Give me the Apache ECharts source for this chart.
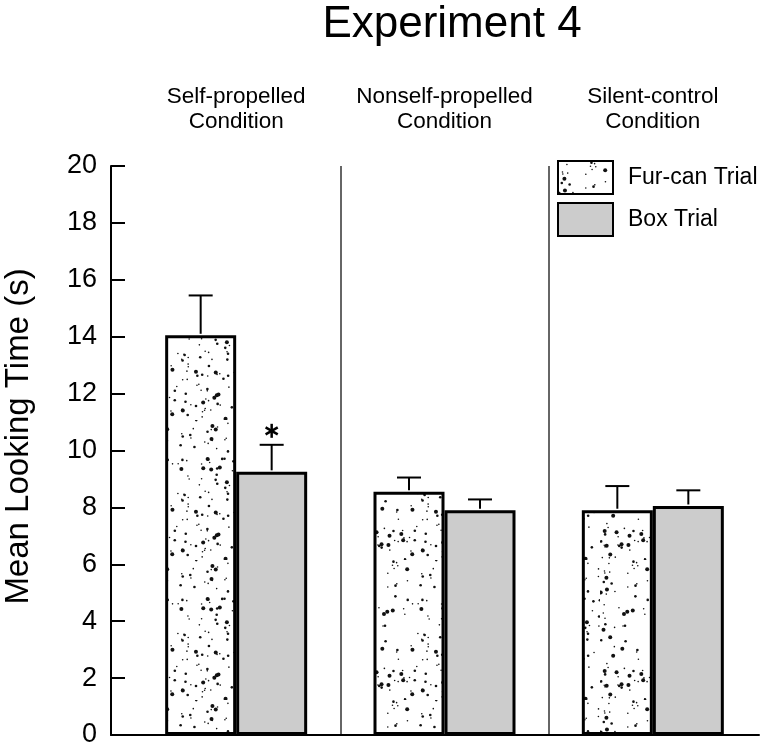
<!DOCTYPE html>
<html>
<head>
<meta charset="utf-8">
<script src="https://cdn.jsdelivr.net/npm/echarts@6/dist/echarts.min.js"></script>
<style>
  html, body { margin: 0; padding: 0; background: #fff; }
  #chart { width: 770px; height: 751px; }
</style>
</head>
<body>
<div id="chart"></div>
<script>
const conditions = ["Self-propelled\nCondition", "Nonself-propelled\nCondition", "Silent-control\nCondition"];
const furMeans = [14.05, 8.55, 7.9];
const furUpper = [15.45, 9.05, 8.75];
const boxMeans = [9.25, 7.9, 8.05];
const boxUpper = [10.2, 8.28, 8.6];
const boxSig = ["*", "", ""];
const yTicks = [0, 20, 2];

const FONT = "Liberation Sans, Arial, Helvetica, sans-serif";
const BAR_W = 71;

// speckled fill for the fur-can bars (texture only, fixed seed)
function speckle() {
  const c = document.createElement("canvas");
  c.width = 120;
  c.height = 140;
  const ctx = c.getContext("2d");
  ctx.fillStyle = "#fff";
  ctx.fillRect(0, 0, c.width, c.height);
  ctx.fillStyle = "#111";
  let s = 98765;
  const rnd = () => {
    s = (s * 1103515245 + 12345) % 2147483648;
    return s / 2147483648;
  };
  for (let i = 0; i < 200; i++) {
    const x = rnd() * c.width, y = rnd() * c.height;
    const k = rnd();
    const r = k < 0.45 ? 0.8 : k < 0.8 ? 1.3 : 2.0;
    ctx.beginPath();
    ctx.arc(x, y, r, 0, Math.PI * 2);
    ctx.fill();
  }
  return c;
}

const errData = [];
conditions.forEach((_, i) => {
  errData.push([i, furMeans[i], furUpper[i], 0, ""]);
  errData.push([i, boxMeans[i], boxUpper[i], 1, boxSig[i]]);
});

const chart = echarts.init(document.getElementById("chart"));

chart.setOption({
  animation: false,
  backgroundColor: "#fff",
  textStyle: { fontFamily: FONT, color: "#000" },
  title: {
    text: "Experiment 4",
    left: 452,
    top: 3,
    padding: 0,
    textAlign: "center",
    textStyle: { fontFamily: FONT, fontSize: 44, fontWeight: "normal", color: "#000" }
  },
  legend: {
    data: ["Fur-can Trial", "Box Trial"],
    orient: "vertical",
    left: 557,
    top: 160,
    padding: 0,
    itemWidth: 55,
    itemHeight: 33,
    itemGap: 7,
    icon: "rect",
    itemStyle: { borderColor: "#000", borderWidth: 2 },
    textStyle: { fontFamily: FONT, fontSize: 23, color: "#000", padding: [0, 0, 0, 10] }
  },
  grid: [
    { left: 111, right: 11, top: 166, bottom: 16, outerBoundsMode: "none" },
    { left: 132, right: 13, top: 166, bottom: 16, outerBoundsMode: "none" }
  ],
  xAxis: [
    {
      type: "value", gridIndex: 0, min: 0, max: 1,
      axisLine: { show: true, lineStyle: { color: "#000", width: 2 } },
      axisTick: { show: false }, axisLabel: { show: false }, splitLine: { show: false }
    },
    {
      type: "category", gridIndex: 1, position: "top",
      data: conditions,
      axisLine: { show: false }, axisTick: { show: false },
      axisLabel: { interval: 0, fontFamily: FONT, fontSize: 22.5, lineHeight: 25, color: "#000", margin: 32 },
      splitLine: {
        show: true, interval: 0, showMinLine: false, showMaxLine: false,
        lineStyle: { color: "#333", width: 1.5 }
      }
    }
  ],
  yAxis: [
    {
      type: "value", gridIndex: 0, min: yTicks[0], max: yTicks[1], interval: yTicks[2],
      name: "Mean Looking Time (s)",
      nameLocation: "middle",
      nameGap: 76,
      nameTextStyle: { fontFamily: FONT, fontSize: 33, color: "#000", padding: [0, 0, 0, 28] },
      axisLine: { show: true, lineStyle: { color: "#000", width: 2 } },
      axisTick: { show: true, inside: true, length: 14, lineStyle: { color: "#000", width: 2 } },
      axisLabel: { fontFamily: FONT, fontSize: 27, color: "#000", margin: 14 },
      splitLine: { show: false }
    },
    { type: "value", gridIndex: 1, min: yTicks[0], max: yTicks[1], show: false }
  ],
  series: [
    {
      name: "Fur-can Trial", type: "bar", xAxisIndex: 1, yAxisIndex: 1,
      data: furMeans, barWidth: BAR_W, barGap: "0%",
      itemStyle: { color: { image: speckle(), repeat: "repeat" }, borderColor: "#000", borderWidth: 3 }
    },
    {
      name: "Box Trial", type: "bar", xAxisIndex: 1, yAxisIndex: 1,
      data: boxMeans, barWidth: BAR_W, barGap: "0%",
      itemStyle: { color: "#cccccc", borderColor: "#000", borderWidth: 3 }
    },
    {
      type: "custom", xAxisIndex: 1, yAxisIndex: 1, z: 5,
      data: errData,
      renderItem: function (params, api) {
        const top = api.coord([api.value(0), api.value(1)]);
        const up = api.coord([api.value(0), api.value(2)]);
        const x = top[0] + (api.value(3) === 0 ? -BAR_W / 2 : BAR_W / 2);
        const st = { stroke: "#000", lineWidth: 2 };
        const kids = [
          { type: "line", shape: { x1: x, y1: top[1] - 1.5, x2: x, y2: up[1] }, style: st },
          { type: "line", shape: { x1: x - 12, y1: up[1], x2: x + 12, y2: up[1] }, style: st }
        ];
        if (errData[params.dataIndex][4] === "*") {
          const cy = up[1] - 14, r = 7;
          [90, 30, 150].forEach(function (a) {
            const dx = Math.cos(a * Math.PI / 180) * r, dy = Math.sin(a * Math.PI / 180) * r;
            kids.push({ type: "line", shape: { x1: x - dx, y1: cy - dy, x2: x + dx, y2: cy + dy },
              style: { stroke: "#000", lineWidth: 2.5 } });
          });
        }
        return { type: "group", children: kids };
      }
    }
  ]
});
</script>
</body>
</html>
